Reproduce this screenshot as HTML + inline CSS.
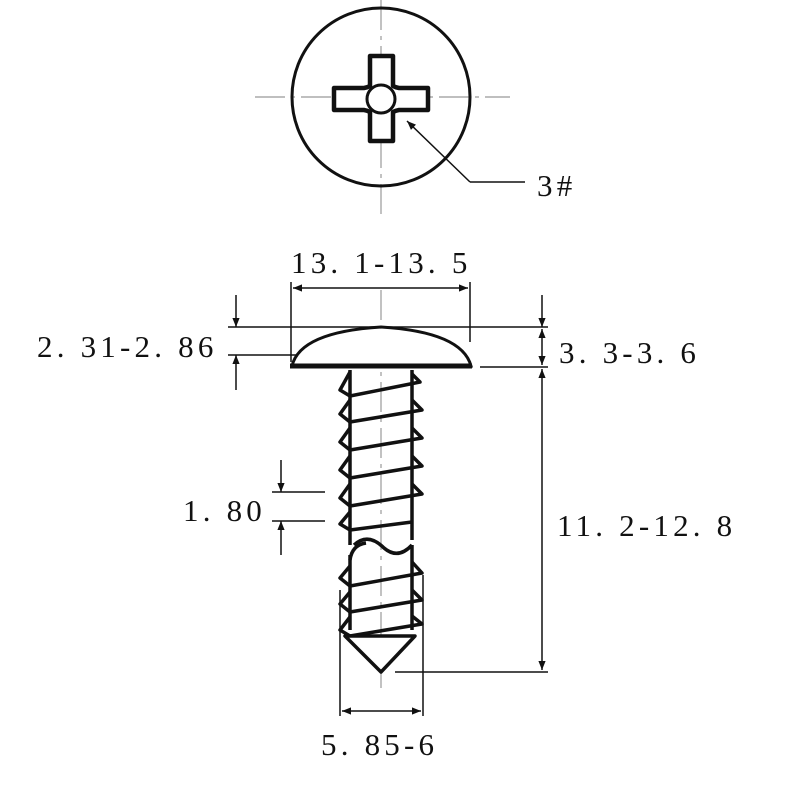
<!DOCTYPE html>
<html><head><style>body{margin:0;background:#fff}svg{display:block}text{font-family:"Liberation Serif","Noto Serif CJK SC",serif;font-size:31px;fill:#111;letter-spacing:4.2px}</style></head>
<body>
<svg width="800" height="800" viewBox="0 0 800 800" xmlns="http://www.w3.org/2000/svg">
<defs><marker id="a" viewBox="0 0 10 10" refX="10" refY="5" markerWidth="9" markerHeight="6" orient="auto-start-reverse"><path d="M0,1 L10,5 L0,9z" fill="#111"/></marker></defs>
<g stroke="#999" stroke-width="1.2" stroke-dasharray="30,6,4,6" fill="none">
<line x1="255" y1="97" x2="510" y2="97"/><line x1="381" y1="0" x2="381" y2="215"/>
<line x1="381" y1="290" x2="381" y2="690"/>
</g>
<circle cx="381" cy="97" r="89" fill="none" stroke="#111" stroke-width="3"/>
<path d="M370,56 H393 V86 A18,18 0 0 0 399,88 H428 V110 H399 A18,18 0 0 0 393,112 V141 H370 V112 A18,18 0 0 0 364,110 H334 V88 H364 A18,18 0 0 0 370,86 Z" fill="#fff" stroke="#111" stroke-width="4.5" stroke-linejoin="round"/>
<circle cx="381" cy="99" r="14" fill="none" stroke="#111" stroke-width="3"/>
<path d="M470,182 L407,121" stroke="#111" stroke-width="1.5" marker-end="url(#a)" fill="none"/>
<line x1="470" y1="182" x2="525" y2="182" stroke="#111" stroke-width="1.5"/>
<text x="537" y="196">3#</text>

<g stroke="#111" stroke-width="1.5" fill="none">
<line x1="291" y1="282" x2="291" y2="362"/><line x1="470" y1="282" x2="470" y2="342"/>
<line x1="293" y1="288" x2="468" y2="288" marker-start="url(#a)" marker-end="url(#a)"/>
<line x1="228" y1="327" x2="548" y2="327"/><line x1="228" y1="355" x2="350" y2="355"/>
<line x1="236" y1="295" x2="236" y2="327" marker-end="url(#a)"/><line x1="236" y1="390" x2="236" y2="355" marker-end="url(#a)"/>
<line x1="480" y1="367" x2="548" y2="367"/>
<line x1="542" y1="295" x2="542" y2="327" marker-end="url(#a)"/>
<line x1="542" y1="329" x2="542" y2="365" marker-start="url(#a)" marker-end="url(#a)"/>
<line x1="542" y1="369" x2="542" y2="670" marker-start="url(#a)" marker-end="url(#a)"/>
<line x1="395" y1="672" x2="548" y2="672"/>
<line x1="272" y1="492" x2="325" y2="492"/><line x1="272" y1="521" x2="325" y2="521"/>
<line x1="281" y1="460" x2="281" y2="492" marker-end="url(#a)"/><line x1="281" y1="555" x2="281" y2="521" marker-end="url(#a)"/>
<line x1="340" y1="590" x2="340" y2="716"/><line x1="423" y1="575" x2="423" y2="716"/>
<line x1="342" y1="711" x2="421" y2="711" marker-start="url(#a)" marker-end="url(#a)"/>
<path d="M345,355 L352,335 M413,355 L406,335 M373,357 L371,333 M390,357 L392,333" stroke="#555" stroke-width="1.2"/>
</g>
<text x="291" y="273">13. 1-13. 5</text>
<text x="37" y="357">2. 31-2. 86</text>
<text x="559" y="363">3. 3-3. 6</text>
<text x="183" y="521">1. 80</text>
<text x="557" y="536">11. 2-12. 8</text>
<text x="321" y="755">5. 85-6</text>

<path d="M292,366 Q300,332 381,327 Q462,332 471,366 Z" fill="#fff" stroke="#111" stroke-width="3"/>
<line x1="290" y1="366" x2="472" y2="366" stroke="#111" stroke-width="5"/>
<g stroke="#111" stroke-width="3.5" fill="none" stroke-linejoin="round">
<line x1="350" y1="370" x2="350" y2="545"/><line x1="412" y1="370" x2="412" y2="540"/>
<line x1="350" y1="555" x2="350" y2="630"/><line x1="412" y1="545" x2="412" y2="630"/>
<path d="M350,372 L340,390 L350,396 L420,382 L412,374"/>
<path d="M350,400 L340,414 L350,422 L422,410 L412,400"/>
<path d="M350,428 L340,442 L350,450 L422,438 L412,428"/>
<path d="M350,456 L340,470 L350,478 L422,466 L412,456"/>
<path d="M350,484 L340,498 L350,506 L422,494 L412,484"/>
<path d="M350,512 L340,524 L350,530 L412,522"/>
<path d="M354,545 Q368,532 384,548 Q398,560 412,545"/>
<path d="M350,560 Q352,545 366,543"/>
<path d="M350,566 L340,578 L350,586 L422,573 L412,562"/>
<path d="M350,592 L340,604 L350,612 L422,600 L412,590"/>
<path d="M350,617 L340,630 L350,636 L422,624 L412,616"/>
<path d="M345,636 L415,636 L381,672 Z" fill="#fff"/>
</g>
</svg>
</body></html>
